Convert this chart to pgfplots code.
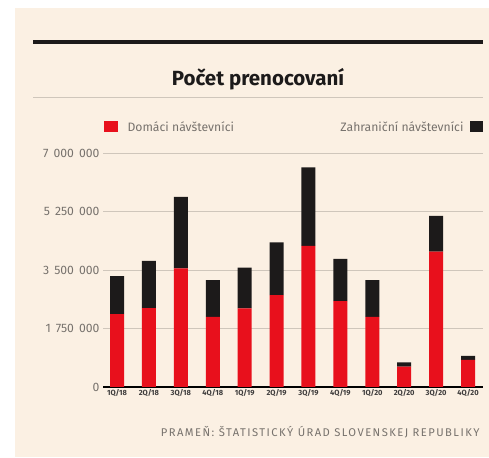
\documentclass[border=0pt]{standalone}
\usepackage{pgfplots}
\pgfplotsset{compat=1.18}
\usepackage{fontspec}
\setmainfont{Fira Sans}
\definecolor{cream}{HTML}{FBF0E3}
\definecolor{barred}{HTML}{E8101C}
\definecolor{barblack}{HTML}{1C1A1A}
\definecolor{gridc}{HTML}{CFC6BB}
\definecolor{txtgrey}{HTML}{77726D}
\definecolor{baseline}{HTML}{3A443D}
\newcommand{\tsp}{\hspace{5pt}}
\begin{document}
\begin{tikzpicture}[x=1pt,y=1pt]
\useasboundingbox (0,0) rectangle (489,457);
\fill[white] (0,0) rectangle (489,457);
\fill[cream] (15,0) rectangle (489,449);
\draw[barblack,line width=4pt] (33,415) -- (483,415);
\node[font=\bfseries\fontsize{20.5}{22}\selectfont,text=barblack] at (258,378) {Počet prenocovaní};
\draw[gridc,line width=1pt] (33,359) -- (483,359);
\fill[barred] (104,325) rectangle (118,336);
\node[anchor=west,font=\fontsize{12.2}{14}\selectfont,text=txtgrey] at (124,330.5) {Domáci návštevníci};
\fill[barblack] (470,325) rectangle (483,336);
\node[anchor=east,font=\fontsize{12.2}{14}\selectfont,text=txtgrey] at (467,330.5) {Zahraniční návštevníci};
\begin{axis}[
  at={(103pt,70pt)}, anchor=south west,
  scale only axis, width=380pt, height=234pt,
  xmin=-0.44, xmax=11.47, ymin=0, ymax=7000000,
  ybar stacked, bar width=14pt,
  axis line style={draw=none},
  xtick=data,
  xticklabels={1Q/18,2Q/18,3Q/18,4Q/18,1Q/19,2Q/19,3Q/19,4Q/19,1Q/20,2Q/20,3Q/20,4Q/20},
  xticklabel style={font=\bfseries\fontsize{7.5}{8}\selectfont,text=barblack!85, yshift=1pt},
  ytick={0,1750000,3500000,5250000,7000000},
  yticklabels={0,1\tsp750\tsp000,3\tsp500\tsp000,5\tsp250\tsp000,7\tsp000\tsp000},
  yticklabel style={font=\fontsize{12.2}{14}\selectfont,text=txtgrey},
  scaled y ticks=false,
  ymajorgrids, grid style={gridc,line width=1pt},
  major tick length=0pt,
  clip=false,
  every axis plot/.append style={draw=none},
]
\addplot[fill=barred] coordinates {(0,2180000) (1,2360000) (2,3550000) (3,2100000) (4,2350000) (5,2750000) (6,4220000) (7,2570000) (8,2100000) (9,610000) (10,4050000) (11,810000)};
\addplot[fill=barblack] coordinates {(0,1140000) (1,1410000) (2,2140000) (3,1100000) (4,1220000) (5,1580000) (6,2350000) (7,1260000) (8,1100000) (9,130000) (10,1070000) (11,120000)};
\draw[baseline,line width=1.8pt] (axis cs:-0.44,0) -- (axis cs:11.47,0);
\end{axis}
\node[anchor=east,font=\addfontfeatures{LetterSpace=13}\fontsize{11.2}{13}\selectfont,text=txtgrey] at (483,25) {PRAMEŇ: ŠTATISTICKÝ ÚRAD SLOVENSKEJ REPUBLIKY};
\end{tikzpicture}
\end{document}
